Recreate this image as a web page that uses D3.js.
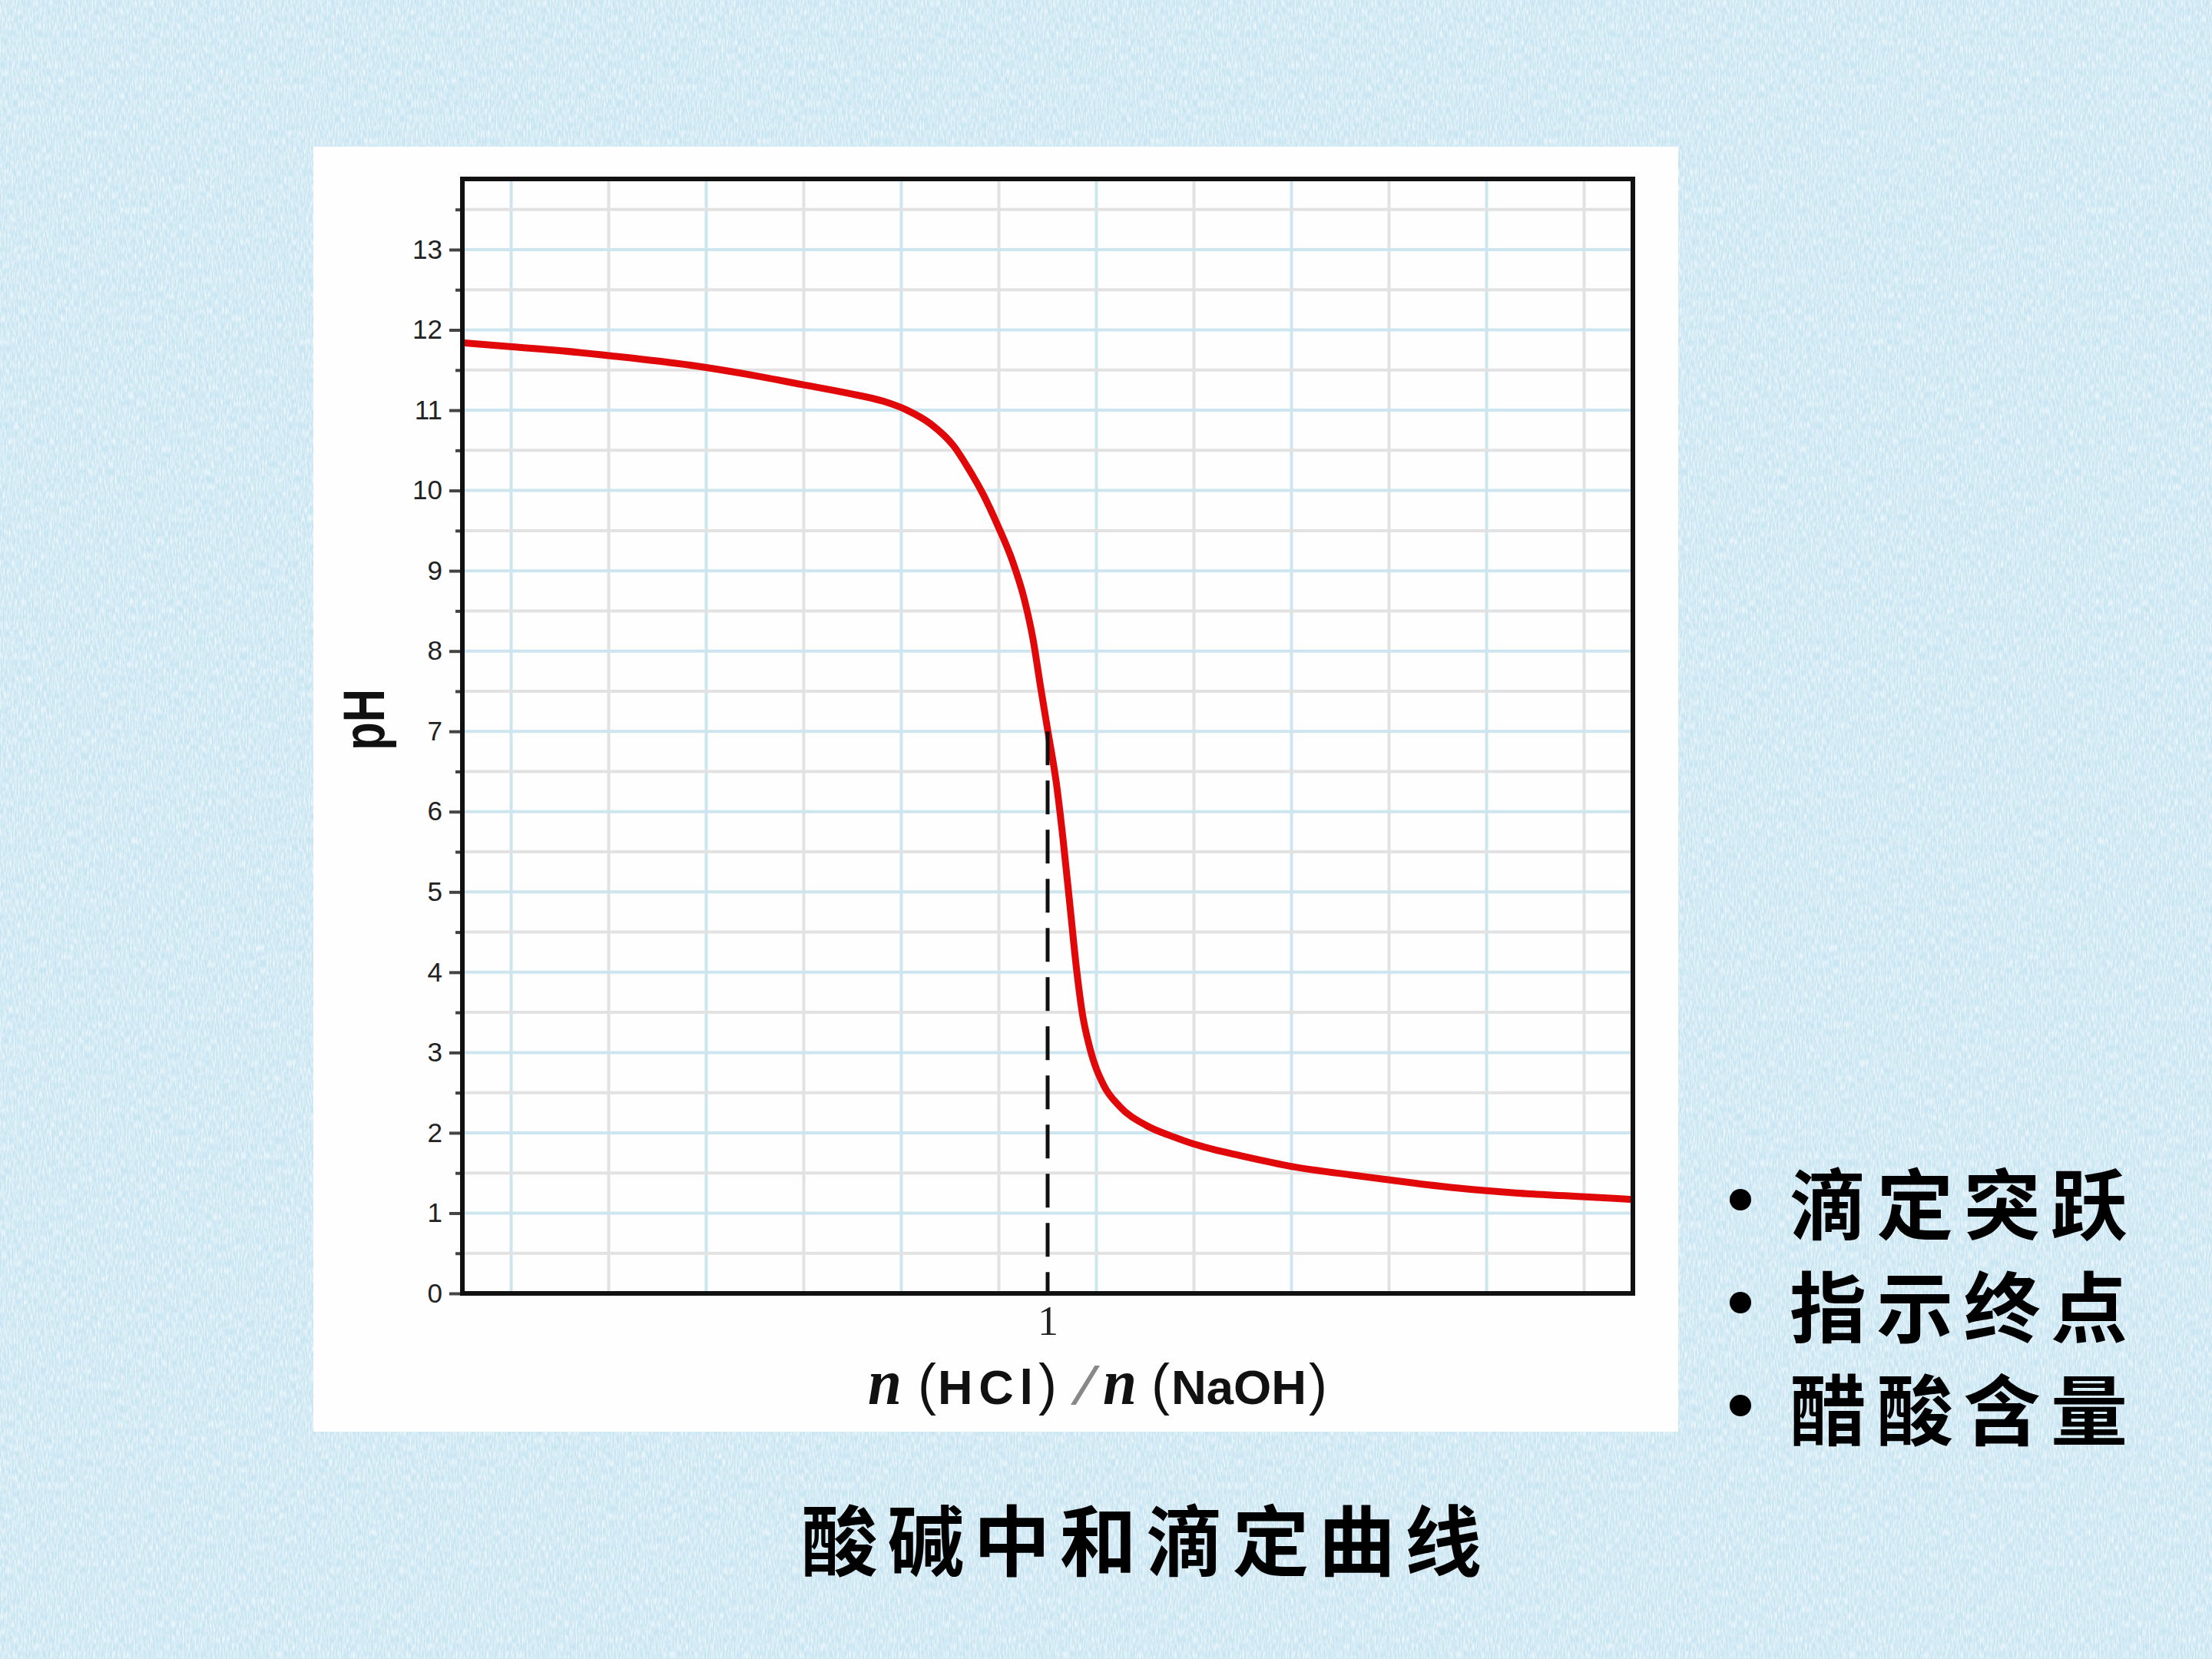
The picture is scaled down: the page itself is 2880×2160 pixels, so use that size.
<!DOCTYPE html>
<html>
<head>
<meta charset="utf-8">
<script src="https://cdn.jsdelivr.net/npm/d3@7"></script>
<style>
  html, body { margin: 0; padding: 0; background: #cbe6f3; }
  svg { display: block; }
</style>
</head>
<body>
<div id="chart"></div>
<script>
// titration curve: n(HCl)/n(NaOH) vs pH
const ratio = [0, 0.085, 0.17, 0.25, 0.39, 0.5, 0.58, 0.66, 0.72, 0.76, 0.80, 0.84, 0.865, 0.89,
    0.915, 0.94, 0.96, 0.975, 0.988, 1.0, 1.015, 1.026, 1.038, 1.05, 1.059, 1.072, 1.096, 1.123,
    1.169, 1.215, 1.25, 1.285, 1.321, 1.418, 1.524, 1.62, 1.703, 1.8, 1.9, 2.0];
const pH = [11.84, 11.79, 11.74, 11.68, 11.56, 11.43, 11.32, 11.21, 11.11, 11.0, 10.83, 10.55, 10.27, 9.95,
    9.56, 9.12, 8.65, 8.15, 7.55, 7.02, 6.35, 5.68, 4.84, 4.0, 3.5, 3.06, 2.59, 2.33,
    2.09, 1.95, 1.86, 1.79, 1.73, 1.58, 1.47, 1.38, 1.31, 1.25, 1.21, 1.17];
const yTicks = d3.range(0, 14);            // 0 .. 13
const yMinorTicks = d3.range(0.5, 14, 1);  // half units
const xTicks = [1];
const equivalence = { x: 1, pH: 7.0 };
const bullets = ["滴定突跃", "指示终点", "醋酸含量"];
const title = "酸碱中和滴定曲线";

const W = 2880, H = 2160;
const svg = d3.select("#chart").append("svg")
    .attr("width", W)
    .attr("height", H);

// linen-like light blue background: solid base + white noise streaks
const defs = svg.append("defs");
const f = defs.append("filter").attr("id", "linen")
    .attr("x", 0).attr("y", 0).attr("width", "100%").attr("height", "100%");
f.append("feTurbulence")
    .attr("type", "fractalNoise")
    .attr("baseFrequency", "0.5 0.1")
    .attr("numOctaves", 2)
    .attr("seed", 3);
f.append("feColorMatrix")
    .attr("type", "matrix")
    .attr("values", "0 0 0 0 1  0 0 0 0 1  0 0 0 0 1  1.5 0 0 0 -0.52");
svg.append("rect")
    .attr("width", W).attr("height", H)
    .attr("fill", "#c8e5f2");
svg.append("rect")
    .attr("width", W).attr("height", H)
    .attr("filter", "url(#linen)");

// white picture panel
svg.append("rect")
    .attr("x", 408).attr("y", 191)
    .attr("width", 1777).attr("height", 1673)
    .attr("fill", "#fefefe");

const margin = { top: 233, left: 602 },
    width = 1524,
    height = 1451;

const g = svg.append("g")
    .attr("transform", `translate(${margin.left},${margin.top})`);

const x = d3.scaleLinear().domain([0, 2]).range([0, width]);
const y = d3.scaleLinear().domain([0, 13.88]).range([height, 0]);

// grid
const vGrid = d3.range(12).map(k => (2 * k + 1) / 12);
g.selectAll(".vgrid")
    .data(vGrid)
    .join("line")
    .attr("x1", d => x(d)).attr("x2", d => x(d))
    .attr("y1", 0).attr("y2", height)
    .attr("stroke", (d, i) => i % 2 === 0 ? "#cde5ee" : "#e2e2e2")
    .attr("stroke-width", 4);

const hGrid = d3.range(0.5, 13.9, 0.5);
g.selectAll(".hgrid")
    .data(hGrid)
    .join("line")
    .attr("x1", 0).attr("x2", width)
    .attr("y1", d => y(d)).attr("y2", d => y(d))
    .attr("stroke", d => Number.isInteger(d) ? "#cde5ee" : "#e2e2e2")
    .attr("stroke-width", 4);

// curve
const pts = ratio.map((r, i) => [r, pH[i]]);
const line = d3.line()
    .x(d => x(d[0]))
    .y(d => y(d[1]))
    .curve(d3.curveMonotoneX);
g.append("path")
    .datum(pts)
    .attr("d", line)
    .attr("fill", "none")
    .attr("stroke", "#e00808")
    .attr("stroke-width", 9)
    .attr("stroke-linejoin", "round");

// equivalence point dashed line
g.append("line")
    .attr("x1", x(equivalence.x)).attr("x2", x(equivalence.x))
    .attr("y1", y(equivalence.pH)).attr("y2", y(0))
    .attr("stroke", "#111")
    .attr("stroke-width", 5)
    .attr("stroke-dasharray", "44,20");

// y axis (major + minor ticks)
const yAxis = g.append("g")
    .call(d3.axisLeft(y).tickValues(yTicks).tickSize(17).tickPadding(9));
yAxis.select(".domain").remove();
yAxis.selectAll("line").attr("stroke", "#444").attr("stroke-width", 4);
yAxis.selectAll("text")
    .attr("fill", "#222")
    .style("font-family", "'Liberation Sans', Arial, sans-serif")
    .style("font-size", "35px");

const yMinor = g.append("g")
    .call(d3.axisLeft(y).tickValues(yMinorTicks).tickSize(9).tickFormat(""));
yMinor.select(".domain").remove();
yMinor.selectAll("line").attr("stroke", "#444").attr("stroke-width", 4);

// x axis: only the "1"
const xAxis = g.append("g")
    .attr("transform", `translate(0,${height})`)
    .call(d3.axisBottom(x).tickValues(xTicks).tickSize(0).tickPadding(16).tickFormat(d3.format("d")));
xAxis.select(".domain").remove();
xAxis.selectAll("text")
    .attr("fill", "#222")
    .style("font-family", "'Liberation Serif', 'Times New Roman', serif")
    .style("font-size", "54px");

// frame
g.append("rect")
    .attr("x", 0).attr("y", 0)
    .attr("width", width).attr("height", height)
    .attr("fill", "none")
    .attr("stroke", "#111")
    .attr("stroke-width", 6);

// pH label
svg.append("text")
    .attr("transform", "translate(500,937) rotate(-90)")
    .attr("text-anchor", "middle")
    .attr("textLength", 80)
    .attr("lengthAdjust", "spacingAndGlyphs")
    .style("font-family", "'Liberation Sans', Arial, sans-serif")
    .style("font-weight", "bold")
    .style("font-size", "76px")
    .attr("fill", "#111")
    .text("pH");

// x label pieces: n(HCl)/n(NaOH)
const serif = "'Liberation Serif', serif", sans = "'Liberation Sans', sans-serif";
const labelParts = [
    { t: "n", x: 1130, len: 44, fam: serif, style: "italic", weight: "bold", size: 84, fill: "#111", adj: "spacingAndGlyphs" },
    { t: "(", x: 1195, len: 24, fam: sans, style: "normal", weight: "normal", size: 74, fill: "#111", adj: "spacingAndGlyphs" },
    { t: "HCl", x: 1221, len: 124, fam: sans, style: "normal", weight: "bold", size: 63, fill: "#111", adj: "spacing" },
    { t: ")", x: 1352, len: 24, fam: sans, style: "normal", weight: "normal", size: 74, fill: "#111", adj: "spacingAndGlyphs" },
    { t: "/", x: 1394, len: 38, fam: serif, style: "normal", weight: "normal", size: 76, fill: "#888", adj: "spacingAndGlyphs" },
    { t: "n", x: 1436, len: 44, fam: serif, style: "italic", weight: "bold", size: 84, fill: "#111", adj: "spacingAndGlyphs" },
    { t: "(", x: 1499, len: 24, fam: sans, style: "normal", weight: "normal", size: 74, fill: "#111", adj: "spacingAndGlyphs" },
    { t: "NaOH", x: 1525, len: 176, fam: sans, style: "normal", weight: "bold", size: 63, fill: "#111", adj: "spacingAndGlyphs" },
    { t: ")", x: 1704, len: 24, fam: sans, style: "normal", weight: "normal", size: 74, fill: "#111", adj: "spacingAndGlyphs" }
];
svg.selectAll(".xlabel")
    .data(labelParts)
    .join("text")
    .attr("x", d => d.x)
    .attr("y", 1828)
    .attr("textLength", d => d.len)
    .attr("lengthAdjust", d => d.adj)
    .attr("fill", d => d.fill)
    .style("font-family", d => d.fam)
    .style("font-style", d => d.style)
    .style("font-weight", d => d.weight)
    .style("font-size", d => d.size + "px")
    .text(d => d.t);

// bullet list
const bl = svg.selectAll(".bullet")
    .data(bullets)
    .join("g")
    .attr("transform", (d, i) => `translate(0,${1562 + i * 134})`);
bl.append("circle")
    .attr("cx", 2266).attr("cy", 0).attr("r", 14)
    .attr("fill", "#000");
bl.append("text")
    .attr("x", 2330).attr("y", 0)
    .attr("dominant-baseline", "central")
    .attr("textLength", 440)
    .attr("lengthAdjust", "spacing")
    .style("font-family", "'Noto Sans CJK SC', sans-serif")
    .style("font-weight", "700")
    .style("font-size", "100px")
    .attr("fill", "#000")
    .text(d => d);

// title
svg.append("text")
    .attr("x", 1043).attr("y", 2000)
    .attr("dominant-baseline", "central")
    .attr("textLength", 886)
    .attr("lengthAdjust", "spacing")
    .style("font-family", "'Noto Sans CJK SC', sans-serif")
    .style("font-weight", "700")
    .style("font-size", "100px")
    .attr("fill", "#000")
    .text(title);
</script>
</body>
</html>
